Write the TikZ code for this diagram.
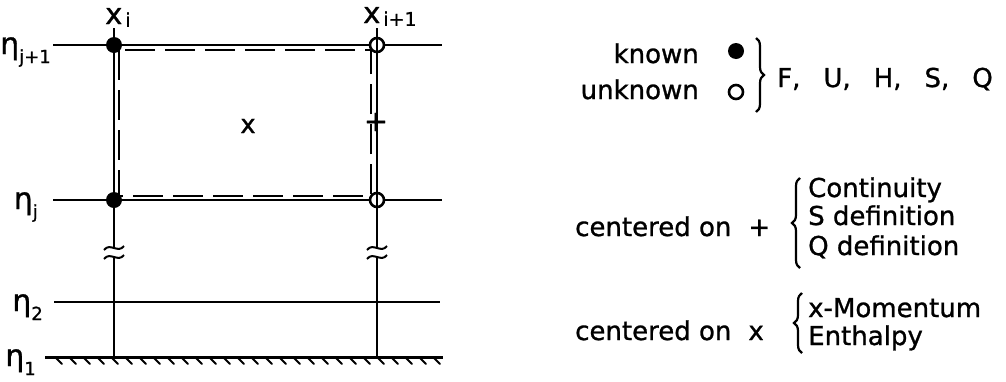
\documentclass[tikz,border=0pt]{standalone}
\usepackage{fontspec}
\setmainfont{DejaVu Sans}[FakeBold=1]
\usetikzlibrary{decorations.pathreplacing}

\tikzset{
  gridline/.style={line width=2.5pt},
  cellline/.style={line width=1.8pt, dash pattern=on 30pt off 10pt},
  knowndot/.style={circle, fill=black, inner sep=0pt, minimum size=16pt},
  unknowndot/.style={circle, draw=black, fill=white, line width=2.6pt, inner sep=0pt, minimum size=14pt},
  txt/.style={font=\fontsize{26}{30}\selectfont, inner sep=0pt},
  curly/.style={line width=2.2pt, decorate, decoration={brace, amplitude=8pt}},
}
\newcommand{\etalbl}[1]{\fontsize{30}{30}\selectfont η\raisebox{-0.3em}{\fontsize{18}{18}\selectfont #1}}
\newcommand{\xlbl}[1]{\fontsize{29}{29}\selectfont x\hspace{3pt}\raisebox{-0.1em}{\fontsize{19}{19}\selectfont #1}}

\begin{document}
\begin{tikzpicture}[x=1pt,y=-1pt]
\useasboundingbox (0,0) rectangle (1006,381);
% eta lines
\coordinate (e4l) at (53,45);  \coordinate (e4r) at (442,45);
\coordinate (e3l) at (53,200); \coordinate (e3r) at (442,200);
\coordinate (e2l) at (54,302); \coordinate (e2r) at (440,302);
\coordinate (e1l) at (45,357); \coordinate (e1r) at (443,357);
\draw[gridline] (e4l) -- (e4r);
\draw[gridline] (e3l) -- (e3r);
\draw[gridline] (e2l) -- (e2r);
\draw[gridline, line width=3pt] (e1l) -- (e1r);
\foreach \t in {55,69,...,435}
  \draw[line width=2pt, line cap=round] (\t,357) -- ++(7,7);
\node[anchor=base east, inner sep=0pt] (eta4) at (51,54) {\etalbl{j+1}};
\node[anchor=base east, inner sep=0pt] (eta3) at (38,209) {\etalbl{j}};
\node[anchor=base east, inner sep=0pt] (eta2) at (43,311) {\etalbl{2}};
\node[anchor=base east, inner sep=0pt] (eta1) at (36,366) {\etalbl{1}};
% cell
\coordinate (c1) at (119,50); \coordinate (c2) at (371,196);
\draw[cellline] (c1) rectangle (c2);
\node[txt] (xmark) at (248,126) {x};
\node[txt, font=\fontsize{29}{30}\selectfont] (pmark) at (376,122) {+};
% nodes
\node[knowndot] (k4) at (114,45) {};
\node[knowndot] (k3) at (114,200) {};
\node[unknowndot] (u4) at (377,45) {};
\node[unknowndot] (u3) at (377,200) {};
\foreach \c/\n in {114/a,377/b} {
  \coordinate (\n top) at (\c,28);
  \coordinate (\n brk1) at (\c,248);
  \coordinate (\n brk2) at (\c,257);
  \coordinate (\n bot) at (\c,357);
  \draw[gridline] (\n top) -- (\n brk1);
  \draw[gridline] (\n brk2) -- (\n bot);
  \foreach \y in {248,257}
    \draw[line width=2pt] (\c-10,\y+2) .. controls (\c-4,\y-6) and (\c+4,\y+6) .. (\c+10,\y-2);
}
\node[anchor=base west, inner sep=0pt] (xi) at (105,24) {\xlbl{i}};
\node[anchor=base west, inner sep=0pt] (xi1) at (363,23) {\xlbl{i+1}};
% legend
\node[txt, anchor=base east] (known) at (699,63) {known};
\node[txt, anchor=base east] (unknown) at (699,99) {unknown};
\node[knowndot] (kleg) at (736,51) {};
\node[unknowndot, minimum size=14pt] (uleg) at (736,92) {};
\coordinate (b1t) at (756,38); \coordinate (b1b) at (756,112);
\draw[curly] (b1t) -- (b1b);
\node[txt, anchor=base west] (vars) at (777,87) {F,\hspace{23pt}U,\hspace{23pt}H,\hspace{23pt}S,\hspace{23pt}Q};
\node[txt, anchor=base west] (cplus) at (575,236) {centered on\hspace{17pt}+};
\coordinate (b2t) at (800,178); \coordinate (b2b) at (800,268);
\draw[curly] (b2b) -- (b2t);
\node[txt, anchor=base west] (cont) at (808,197) {Continuity};
\node[txt, anchor=base west] (sdef) at (808,225) {S definition};
\node[txt, anchor=base west] (qdef) at (808,255) {Q definition};
\node[txt, anchor=base west] (ccross) at (575,340) {centered on\hspace{17pt}x};
\coordinate (b3t) at (802,293); \coordinate (b3b) at (802,353);
\draw[curly] (b3b) -- (b3t);
\node[txt, anchor=base west] (xmom) at (808,317) {x-Momentum};
\node[txt, anchor=base west] (enth) at (808,345) {Enthalpy};
\end{tikzpicture}
\end{document}
